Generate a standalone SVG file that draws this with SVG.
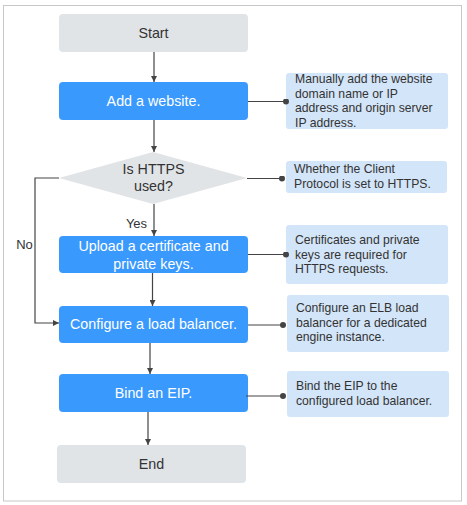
<svg xmlns="http://www.w3.org/2000/svg" width="467" height="505" viewBox="0 0 467 505">
<style>
.grey{fill:#e1e4e7}
.blue{fill:#3a99fd}
.note{fill:#d3e5f8}
.t{font-family:"Liberation Sans",Arial,sans-serif;font-size:14.3px;text-anchor:middle;dominant-baseline:central}
.tw{fill:#ffffff}
.td{fill:#333333}
.n{font-family:"Liberation Sans",Arial,sans-serif;font-size:12.2px;fill:#333333;dominant-baseline:central}
.line{stroke:#444444;stroke-width:1.2;fill:none}
</style>
<defs>
<marker id="arr" viewBox="0 0 10 10" refX="10" refY="5" markerWidth="6" markerHeight="6" orient="auto" markerUnits="userSpaceOnUse">
<path d="M0,0 L10,5 L0,10 z" fill="#444444"/>
</marker>
<marker id="dot" viewBox="0 0 10 10" refX="5" refY="5" markerWidth="6" markerHeight="6" markerUnits="userSpaceOnUse">
<circle cx="5" cy="5" r="5" fill="#444444"/>
</marker>
</defs>
<rect x="3.5" y="5.5" width="458" height="495.5" fill="#ffffff" stroke="#c8c8c8" stroke-width="1"/>
<g id="start"><rect class="grey" x="59" y="14" width="189" height="38" rx="4"/><text class="t td" x="153.5" y="33">Start</text></g>
<g id="add"><rect class="blue" x="59" y="82" width="189" height="38" rx="4"/><text class="t tw" x="153.5" y="101">Add a website.</text></g>
<g id="note1"><rect class="note" x="286" y="73" width="162" height="56" rx="3"/><text class="n" x="295"><tspan x="295" y="79">Manually add the website</tspan><tspan x="295" y="94">domain name or IP</tspan><tspan x="295" y="108">address and origin server</tspan><tspan x="295" y="123">IP address.</tspan></text></g>
<g id="https"><polygon class="grey" points="153,152 247,178 153,204 59,178"/><text class="t td" x="153.5" y="169">Is HTTPS</text><text class="t td" x="153.5" y="186">used?</text></g>
<g id="note2"><rect class="note" x="286" y="161" width="161" height="32" rx="3"/><text class="n"><tspan x="294" y="169">Whether the Client</tspan><tspan x="294" y="184">Protocol is set to HTTPS.</tspan></text></g>
<g id="upload"><rect class="blue" x="59" y="236" width="189" height="37" rx="4"/><text class="t tw" x="153.5" y="246">Upload a certificate and</text><text class="t tw" x="153.5" y="264">private keys.</text></g>
<g id="note3"><rect class="note" x="286" y="225" width="162" height="59" rx="3"/><text class="n"><tspan x="295" y="240">Certificates and private</tspan><tspan x="295" y="255">keys are required for</tspan><tspan x="295" y="269">HTTPS requests.</tspan></text></g>
<g id="lb"><rect class="blue" x="59" y="306" width="189" height="37" rx="4"/><text class="t tw" x="153.5" y="324">Configure a load balancer.</text></g>
<g id="note4"><rect class="note" x="287" y="295" width="162" height="57" rx="3"/><text class="n"><tspan x="296" y="308">Configure an ELB load</tspan><tspan x="296" y="323">balancer for a dedicated</tspan><tspan x="296" y="337">engine instance.</tspan></text></g>
<g id="eip"><rect class="blue" x="59" y="374" width="189" height="38" rx="4"/><text class="t tw" x="153.5" y="393">Bind an EIP.</text></g>
<g id="note5"><rect class="note" x="287" y="371" width="162" height="46" rx="3"/><text class="n"><tspan x="296" y="386">Bind the EIP to the</tspan><tspan x="296" y="401">configured load balancer.</tspan></text></g>
<g id="end"><rect class="grey" x="57" y="445" width="189" height="38" rx="4"/><text class="t td" x="151.5" y="464">End</text></g>
<g id="connectors">
<line class="line" x1="154" y1="52" x2="154" y2="82" marker-end="url(#arr)"/>
<line class="line" x1="154" y1="120" x2="154" y2="152" marker-end="url(#arr)"/>
<line class="line" x1="154" y1="204" x2="154" y2="236" marker-end="url(#arr)"/>
<line class="line" x1="152.5" y1="273" x2="152.5" y2="306" marker-end="url(#arr)"/>
<line class="line" x1="150" y1="343" x2="150" y2="374" marker-end="url(#arr)"/>
<line class="line" x1="148" y1="412" x2="148" y2="445" marker-end="url(#arr)"/>
<polyline class="line" points="59,178 35,178 35,323 59,323" marker-end="url(#arr)"/>
<line class="line" x1="248" y1="101.5" x2="286" y2="101.5" marker-end="url(#dot)"/>
<line class="line" x1="247" y1="178.5" x2="282" y2="178.5" marker-end="url(#dot)"/>
<line class="line" x1="248" y1="254.5" x2="286" y2="254.5" marker-end="url(#dot)"/>
<line class="line" x1="248" y1="325" x2="283" y2="325" marker-end="url(#dot)"/>
<line class="line" x1="246" y1="396" x2="283" y2="396" marker-end="url(#dot)"/>
<text class="t td" x="136.5" y="223" style="font-size:13px">Yes</text>
<text class="t td" x="24.5" y="244" style="font-size:13px">No</text>
</g>
</svg>
